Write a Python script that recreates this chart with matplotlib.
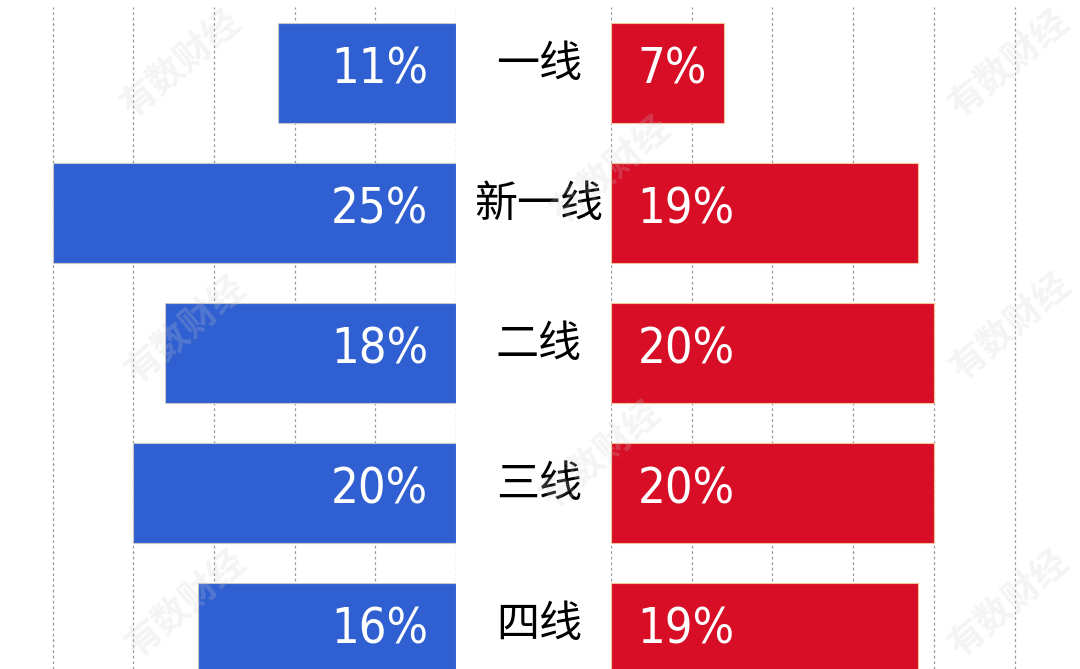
import matplotlib.pyplot as plt
from matplotlib import font_manager
import numpy as np

# 数据
categories = ["一线", "新一线", "二线", "三线", "四线"]
left_values = [11, 25, 18, 20, 16]    # 蓝色（左）
right_values = [7, 19, 20, 20, 19]    # 红色（右）
left_labels = ["11%", "25%", "18%", "20%", "16%"]
right_labels = ["7%", "19%", "20%", "20%", "19%"]

blue = "#2F5FD0"
red = "#D70E26"
grid_ticks = [0, 5, 10, 15, 20, 25]

W, H = 1080, 669
fig = plt.figure(figsize=(W / 100, H / 100), dpi=100)
fig.patch.set_facecolor("white")

px_per_pct = 80.7 / 5          # 每个百分点的像素
left_zero = 456                # 左轴 0 的位置
right_zero = 611               # 右轴 0 的位置
top_px, pitch = 7, 140

ax_l = fig.add_axes([0, 0, left_zero / W, (H - top_px) / H])
ax_r = fig.add_axes([right_zero / W, 0, (W - right_zero) / W, (H - top_px) / H])

y = np.arange(len(categories))
ylim = (4 + 36 / pitch, -66 / pitch)

ax_l.barh(y, left_values, height=100 / pitch, color=blue,
          edgecolor="#c8c8c8", linewidth=0.8, zorder=2)
ax_r.barh(y, right_values, height=100 / pitch, color=red,
          edgecolor="#f3c49a", linewidth=0.8, zorder=2)

ax_l.set_xlim(left_zero / px_per_pct, 0)
ax_r.set_xlim(0, (W - right_zero) / px_per_pct)

for ax in (ax_l, ax_r):
    ax.set_ylim(*ylim)
    for t in grid_ticks:
        ax.axvline(t, color="#9a9a9a", linestyle=(0, (2.2, 2.2)),
                   linewidth=0.9, zorder=1)
    ax.set_xticks([])
    ax.set_yticks([])
    for s in ax.spines.values():
        s.set_visible(False)
    ax.set_facecolor("none")

# 数字用窄体字
names = {f.name for f in font_manager.fontManager.ttflist}
if "Liberation Sans Narrow" in names:
    num_kw = dict(family=["Liberation Sans Narrow", "DejaVu Sans"], fontsize=36)
else:
    num_kw = dict(family=["DejaVu Sans"], fontstretch="condensed", fontsize=35)
cjk_font = ["Noto Sans CJK SC", "DejaVu Sans"]

for i in range(len(categories)):
    ax_l.annotate(left_labels[i], xy=(0, i), xytext=(-20, -7.2),
                  textcoords="offset points", ha="right", va="baseline",
                  color="white", zorder=3, **num_kw)
    ax_r.annotate(right_labels[i], xy=(0, i), xytext=(19, -7.2),
                  textcoords="offset points", ha="left", va="baseline",
                  color="white", zorder=3, **num_kw)
    ax_r.annotate(categories[i], xy=(0, i), xytext=(-(right_zero - 539) * 0.72, 5.5),
                  textcoords="offset points", ha="center", va="center",
                  color="black", fontsize=31, family=cjk_font,
                  annotation_clip=False)

# 水印
wm = [(180, 64), (185, 330), (185, 604), (610, 170), (600, 455),
      (1008, 64), (1010, 327), (1008, 604)]
for wx, wy in wm:
    fig.text(wx / W, 1 - wy / H, "有数财经", rotation=40, ha="center", va="center",
             fontsize=26, fontweight="bold", family=cjk_font,
             color="#cccccc", alpha=0.22, zorder=10)

fig.savefig("out.png", dpi=100)
